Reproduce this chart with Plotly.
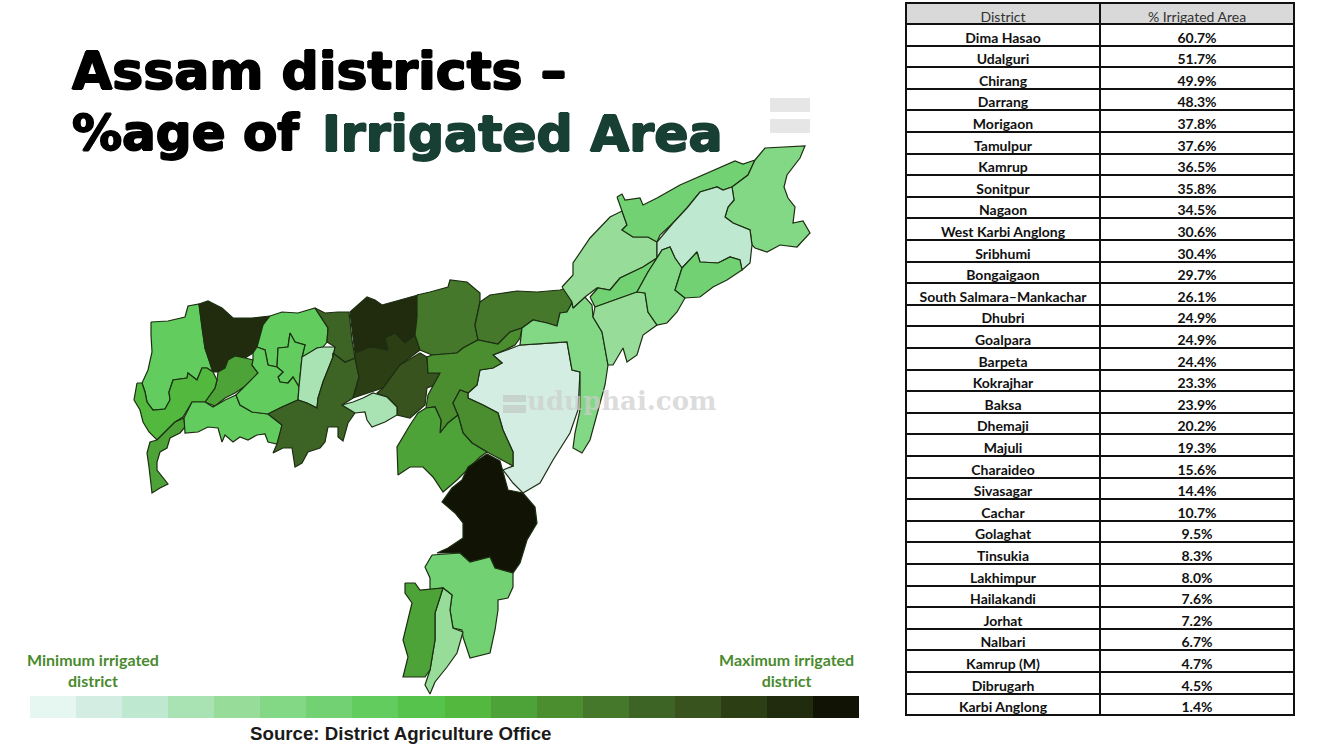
import plotly.graph_objects as go

districts = [
    "Dima Hasao", "Udalguri", "Chirang", "Darrang", "Morigaon", "Tamulpur", "Kamrup", "Sonitpur",
    "Nagaon", "West Karbi Anglong", "Sribhumi", "Bongaigaon", "South Salmara–Mankachar", "Dhubri",
    "Goalpara", "Barpeta", "Kokrajhar", "Baksa", "Dhemaji", "Majuli", "Charaideo", "Sivasagar",
    "Cachar", "Golaghat", "Tinsukia", "Lakhimpur", "Hailakandi", "Jorhat", "Nalbari", "Kamrup (M)",
    "Dibrugarh", "Karbi Anglong",
]
irrigated = [
    60.7, 51.7, 49.9, 48.3, 37.8, 37.6, 36.5, 35.8, 34.5, 30.6, 30.4, 29.7, 26.1, 24.9, 24.9, 24.4,
    23.3, 23.9, 20.2, 19.3, 15.6, 14.4, 10.7, 9.5, 8.3, 8.0, 7.6, 7.2, 6.7, 4.7, 4.5, 1.4,
]
# class of the colour strip each district is painted with, 1 = palest
shade_class = [
    18, 17, 17, 16, 15, 14, 14, 13, 12, 11, 11, 11, 11, 10, 8, 8,
    8, 8, 7, 7, 7, 6, 7, 6, 6, 5, 5, 5, 4, 4, 3, 2,
]
strip_colors = [
    "#e6f6f0", "#d3ede2", "#bfe8d0", "#a9e3b3", "#97dd99", "#83d885", "#72d172", "#62cc5f", "#55c34c",
    "#52b83e", "#4da337", "#4a8e30", "#45782b", "#3e6425", "#38531e", "#2b3e14", "#212c0e", "#111305",
]

# areas the table folds into a parent district
merged_into = {"Biswanath": "Sonitpur", "Hojai": "Nagaon", "Bajali": "Barpeta"}

# district outlines
outlines = {
    "Karbi Anglong": [(468,393),(477,385),(480,370),(493,368),(502,363),(493,355),(507,350),(520,345),(537,344),(567,342),(572,370),(580,372),(578,410),(570,433),(553,460),(540,483),(523,493),(513,483),(503,470),(513,466),(513,452),(503,430),(498,413),(483,405),(468,398)],
    "Kokrajhar": [(151,322),(168,321),(185,317),(188,306),(199,304),(202,328),(205,348),(213,372),(207,368),(202,368),(197,380),(188,373),(187,378),(173,380),(169,392),(170,400),(165,409),(153,410),(147,402),(145,392),(142,383),(148,370),(152,352),(151,335)],
    "Chirang": [(199,304),(208,301),(222,308),(233,318),(252,318),(270,316),(263,325),(258,345),(253,353),(245,358),(235,356),(228,360),(225,368),(218,372),(213,372),(205,348),(202,328)],
    "Bongaigaon": [(218,372),(225,368),(228,360),(235,356),(245,358),(253,360),(252,365),(258,373),(250,383),(235,393),(225,398),(215,406),(205,402),(215,388),(217,380)],
    "Dhubri": [(137,383),(134,400),(140,410),(143,422),(149,432),(157,440),(165,432),(175,422),(183,417),(192,402),(205,402),(215,388),(217,380),(213,372),(207,368),(202,368),(197,380),(188,373),(187,378),(173,380),(169,392),(170,400),(165,409),(153,410),(147,402),(145,392),(142,383)],
    "South Salmara–Mankachar": [(157,440),(165,432),(175,422),(184,418),(185,427),(180,433),(170,438),(167,448),(160,452),(157,462),(157,470),(168,484),(160,488),(152,493),(151,482),(149,467),(147,453),(150,442)],
    "Goalpara": [(184,418),(192,402),(205,402),(213,407),(225,400),(236,395),(240,405),(252,412),(268,414),(282,425),(280,435),(277,444),(268,442),(265,434),(257,435),(248,440),(240,437),(233,442),(225,435),(222,442),(218,428),(208,427),(198,432),(185,433)],
    "Baksa": [(270,316),(282,312),(298,313),(315,308),(328,328),(327,342),(323,347),(317,348),(307,355),(302,357),(305,345),(295,342),(290,333),(288,347),(278,348),(277,367),(268,365),(265,350),(257,347),(263,325)],
    "Bajali": [(278,348),(288,347),(290,333),(295,342),(305,345),(302,357),(299,387),(293,377),(288,383),(280,382),(278,377),(283,372),(277,367)],
    "Barpeta": [(257,347),(265,350),(268,365),(277,367),(283,372),(278,377),(280,382),(288,383),(293,377),(299,387),(298,400),(282,407),(268,414),(252,412),(240,405),(236,395),(248,383),(258,373),(252,365),(253,360),(253,353)],
    "Nalbari": [(302,357),(317,348),(323,347),(335,347),(333,357),(323,382),(318,398),(317,408),(307,403),(298,400),(299,387)],
    "Kamrup": [(268,414),(282,407),(298,400),(307,403),(317,408),(318,398),(323,382),(333,357),(333,353),(345,362),(355,358),(359,377),(353,398),(342,405),(355,413),(348,423),(343,441),(338,437),(338,427),(328,427),(325,442),(320,448),(308,452),(302,463),(295,467),(292,448),(283,448),(273,453),(277,444),(282,425)],
    "Tamulpur": [(315,308),(325,313),(338,312),(349,312),(352,340),(355,358),(345,362),(333,353),(333,357),(335,347),(327,342),(328,328)],
    "Udalguri": [(350,312),(367,297),(375,300),(382,305),(400,300),(418,295),(417,317),(415,335),(405,343),(395,333),(385,338),(388,350),(370,347),(355,353),(353,337)],
    "Darrang": [(355,353),(370,347),(388,350),(385,338),(395,333),(405,343),(415,335),(420,350),(400,365),(383,388),(377,390),(353,398),(359,377),(355,358)],
    "Morigaon": [(400,365),(420,353),(427,357),(428,373),(440,373),(435,385),(427,388),(425,405),(410,418),(397,415),(397,407),(387,397),(377,393),(383,388)],
    "Kamrup (M)": [(342,405),(353,402),(363,398),(373,393),(387,397),(397,407),(397,415),(385,422),(372,427),(367,420),(365,412),(355,413)],
    "Sonitpur": [(417,295),(430,292),(448,287),(450,280),(467,282),(480,293),(480,302),(475,325),(478,340),(463,348),(457,353),(432,355),(420,350),(415,335),(417,317)],
    "Biswanath": [(480,302),(490,295),(517,291),(537,292),(560,290),(568,288),(572,303),(567,312),(560,313),(557,326),(547,323),(533,320),(522,328),(510,332),(498,344),(478,340),(475,325)],
    "Nagaon": [(432,355),(457,353),(463,348),(478,340),(498,344),(510,332),(522,328),(520,338),(515,345),(505,350),(493,355),(502,363),(493,368),(480,370),(477,385),(468,393),(460,390),(453,403),(458,415),(448,423),(440,433),(441,420),(435,407),(426,408),(428,395),(440,373),(428,373),(427,357)],
    "Hojai": [(460,390),(468,393),(468,398),(483,405),(498,413),(503,430),(513,452),(513,466),(502,460),(487,452),(472,443),(463,433),(458,415),(453,403)],
    "West Karbi Anglong": [(426,408),(435,407),(441,420),(440,433),(448,423),(458,415),(463,433),(472,443),(487,452),(480,457),(467,470),(457,480),(443,492),(433,477),(423,467),(410,467),(398,475),(397,447),(410,425),(418,413)],
    "Golaghat": [(522,328),(533,320),(547,323),(557,326),(560,313),(567,312),(572,303),(573,308),(585,297),(592,305),(593,317),(602,332),(605,348),(608,365),(605,385),(598,410),(590,440),(582,453),(573,448),(575,433),(580,410),(580,372),(572,370),(567,342),(537,344),(520,345)],
    "Lakhimpur": [(562,287),(573,275),(573,263),(590,238),(610,217),(622,211),(627,225),(622,230),(633,237),(648,237),(657,242),(657,258),(643,267),(620,278),(610,290),(597,288),(585,297),(573,308),(572,302)],
    "Dhemaji": [(617,197),(622,194),(625,200),(640,198),(643,205),(657,198),(680,185),(710,172),(735,161),(743,164),(755,160),(748,175),(732,187),(723,190),(717,187),(700,192),(687,208),(673,223),(660,235),(657,242),(648,237),(633,237),(622,230),(627,225),(622,211)],
    "Tinsukia": [(755,160),(765,148),(805,146),(800,158),(787,175),(784,187),(788,198),(795,207),(793,223),(803,221),(810,233),(803,240),(797,247),(780,245),(767,252),(755,248),(752,245),(750,230),(733,223),(725,217),(728,207),(734,200),(732,187),(748,175)],
    "Dibrugarh": [(732,187),(734,200),(728,207),(725,217),(733,223),(750,230),(752,245),(750,263),(742,270),(740,260),(730,257),(718,263),(700,262),(697,252),(682,268),(675,258),(670,247),(662,250),(657,258),(657,242),(673,223),(687,208),(700,192),(717,187),(723,190)],
    "Majuli": [(590,297),(598,288),(610,290),(620,278),(643,267),(657,258),(648,272),(637,292),(620,298),(595,307)],
    "Jorhat": [(595,307),(620,298),(637,292),(645,293),(648,312),(657,325),(643,335),(637,355),(627,362),(623,348),(613,365),(608,365),(605,348),(602,332),(593,317)],
    "Sivasagar": [(657,258),(662,250),(670,247),(675,258),(682,268),(675,290),(685,298),(677,312),(667,323),(657,325),(648,312),(645,293),(637,292),(648,272)],
    "Charaideo": [(682,268),(697,252),(700,262),(718,263),(730,257),(740,260),(742,270),(727,280),(713,287),(700,297),(685,298),(675,290)],
    "Dima Hasao": [(468,467),(482,458),(487,454),(500,461),(503,473),(508,490),(523,493),(535,507),(537,523),(527,540),(520,563),(513,573),(495,568),(490,557),(470,562),(460,553),(437,553),(448,548),(463,538),(463,523),(455,513),(442,502),(452,488),(462,480)],
    "Cachar": [(432,555),(460,553),(470,562),(490,557),(495,568),(513,573),(513,587),(508,598),(498,600),(498,610),(495,630),(490,653),(470,658),(463,637),(462,630),(453,628),(450,610),(452,595),(443,588),(430,590),(430,578),(425,567)],
    "Hailakandi": [(443,588),(452,595),(450,610),(453,628),(463,632),(457,653),(447,667),(435,682),(430,694),(425,685),(430,670),(435,640),(435,613)],
    "Sribhumi": [(405,583),(415,583),(420,590),(443,588),(435,613),(435,640),(430,670),(425,677),(403,677),(408,657),(403,640),(408,620),(412,603),(405,593)],
}

value_of = dict(zip(districts, irrigated))
class_of = dict(zip(districts, shade_class))

fig = go.Figure()

for name, pts in outlines.items():
    parent = merged_into.get(name, name)
    fig.add_trace(go.Scatter(
        x=[p[0] for p in pts] + [pts[0][0]],
        y=[p[1] for p in pts] + [pts[0][1]],
        mode="lines",
        fill="toself",
        fillcolor=strip_colors[class_of[parent] - 1],
        line=dict(color="#1c2e12", width=1.2),
        name=name,
        text=f"{name}: {value_of[parent]}%",
        hoverinfo="text",
        showlegend=False,
    ))

# colour strip under the map
n = len(strip_colors)
strip_scale = []
for i, c in enumerate(strip_colors):
    strip_scale.append([i / n, c])
    strip_scale.append([(i + 1) / n, c])

fig.add_trace(go.Heatmap(
    z=[list(range(n))],
    x0=30 + 829 / n / 2,
    dx=829 / n,
    y0=707,
    dy=22,
    zmin=-0.5,
    zmax=n - 0.5,
    colorscale=strip_scale,
    showscale=False,
    hoverinfo="skip",
))

fig.add_trace(go.Table(
    domain=dict(x=[906 / 1344, 1295 / 1344], y=[1 - 719 / 756, 1 - 3 / 756]),
    columnwidth=[195, 195],
    header=dict(
        values=["District", "% Irrigated Area"],
        fill_color="#d9d9d9",
        line=dict(color="#111111", width=2),
        font=dict(family="Lato", size=14, color="#333333"),
        align="center",
        height=21,
    ),
    cells=dict(
        values=[districts, [f"{v:.1f}%" for v in irrigated]],
        fill_color="white",
        line=dict(color="#111111", width=2),
        font=dict(family="Lato", size=14, color="#111111", weight="bold"),
        align="center",
        height=21.6,
    ),
))

# heavy title: DejaVu Bold thickened with a sideways shadow
heavy = "1px 0 0 {0}, -1px 0 0 {0}, 0 0.6px 0 {0}, 0 -0.6px 0 {0}"


def title_font(size, color):
    return dict(family="DejaVu Sans", size=size, color=color, weight="bold", shadow=heavy.format(color))


green_font = dict(family="Lato", size=16, color="#4a8a2e", weight="bold")

fig.add_annotation(x=70, y=71, text="Assam districts –", font=title_font(52, "#000000"),
                   xanchor="left", showarrow=False)
fig.add_annotation(x=70, y=133, text="%age of", font=title_font(50, "#000000"),
                   xanchor="left", showarrow=False)
fig.add_annotation(x=320, y=133, text="Irrigated Area", font=title_font(50.5, "#173f33"),
                   xanchor="left", showarrow=False)
fig.add_annotation(x=93, y=670, text="Minimum irrigated<br>district", font=green_font, showarrow=False)
fig.add_annotation(x=786, y=670, text="Maximum irrigated<br>district", font=green_font, showarrow=False)
fig.add_annotation(x=400, y=733, text="Source: District Agriculture Office", showarrow=False,
                   font=dict(family="Liberation Sans", size=18.7, color="#1a1a1a", weight="bold"))
fig.add_annotation(x=525, y=401, text="uduphai.com", xanchor="left", showarrow=False,
                   font=dict(family="DejaVu Serif", size=26, color="rgba(205,205,205,0.7)", weight="bold"))

for y0, y1 in [(98, 112), (119, 133)]:
    fig.add_shape(type="rect", x0=770, x1=810, y0=y0, y1=y1, fillcolor="#e6e6e6", line_width=0)
for y0, y1 in [(395, 402), (405, 413)]:
    fig.add_shape(type="rect", x0=503, x1=526, y0=y0, y1=y1, fillcolor="rgba(195,205,200,0.8)", line_width=0)

fig.update_xaxes(range=[0, 1344], visible=False, fixedrange=True)
fig.update_yaxes(range=[756, 0], visible=False, fixedrange=True)
fig.update_layout(
    width=1344,
    height=756,
    margin=dict(l=0, r=0, t=0, b=0),
    paper_bgcolor="white",
    plot_bgcolor="white",
    showlegend=False,
)

fig.write_html("out.html", post_script="document.body.style.margin='0';", config={"displayModeBar": False})
